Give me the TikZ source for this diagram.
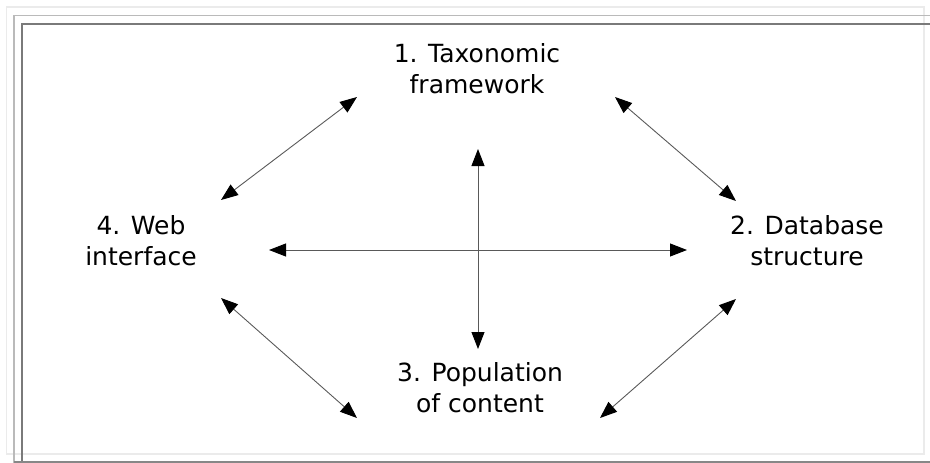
\documentclass[tikz,border=0pt]{standalone}
\usepackage{fontspec}
\setmainfont{DejaVu Sans}
\usetikzlibrary{arrows.meta}
\begin{document}
\begin{tikzpicture}[x=1pt,y=-1pt,
  lbl/.style={align=center,inner sep=0pt,anchor=base,font=\fontsize{25}{30.5}\selectfont},
  link/.style={draw=black!65,line width=0.9pt,{Triangle[length=17pt,width=13pt,fill=black,color=black]}-{Triangle[length=17pt,width=13pt,fill=black,color=black]}},
  faint/.style={draw=black!8,line width=1.2pt},
  midline/.style={draw=black!27,line width=1.8pt},
  darkline/.style={draw=black!52,line width=2pt},
  botline/.style={draw=black!47,line width=1.8pt}]
\useasboundingbox (0,0) rectangle (930,463);
% frames
\draw[faint] (6.5,7) rectangle (924,454);
\draw[midline] (930,15.5) -- (14,15.5) -- (14,463);
\draw[darkline] (930,24) -- (22,24) -- (22,463);
\draw[botline] (14,462) -- (930,462);
% labels (anchor = baseline of last line)
\node[lbl] (tax) at (477,93) {1. Taxonomic\\framework};
\node[lbl] (db) at (807,265) {2. Database\\structure};
\node[lbl] (pop) at (480,412) {3. Population\\of content};
\node[lbl] (web) at (141,265) {4. Web\\interface};
% arrow end points
\coordinate (tl1) at (357,97);  \coordinate (tl2) at (221,200);
\coordinate (tr1) at (615,97);  \coordinate (tr2) at (736,201);
\coordinate (bl1) at (221,298); \coordinate (bl2) at (357,418);
\coordinate (br1) at (600,418); \coordinate (br2) at (736,299);
\coordinate (vt) at (478,149);  \coordinate (vb) at (478,349);
\coordinate (hl) at (269,250);  \coordinate (hr) at (687,250);
% arrows
\draw[link] (tl1) -- (tl2);
\draw[link] (tr1) -- (tr2);
\draw[link] (bl1) -- (bl2);
\draw[link] (br1) -- (br2);
\draw[link] (vt) -- (vb);
\draw[link] (hl) -- (hr);
\end{tikzpicture}
\end{document}
